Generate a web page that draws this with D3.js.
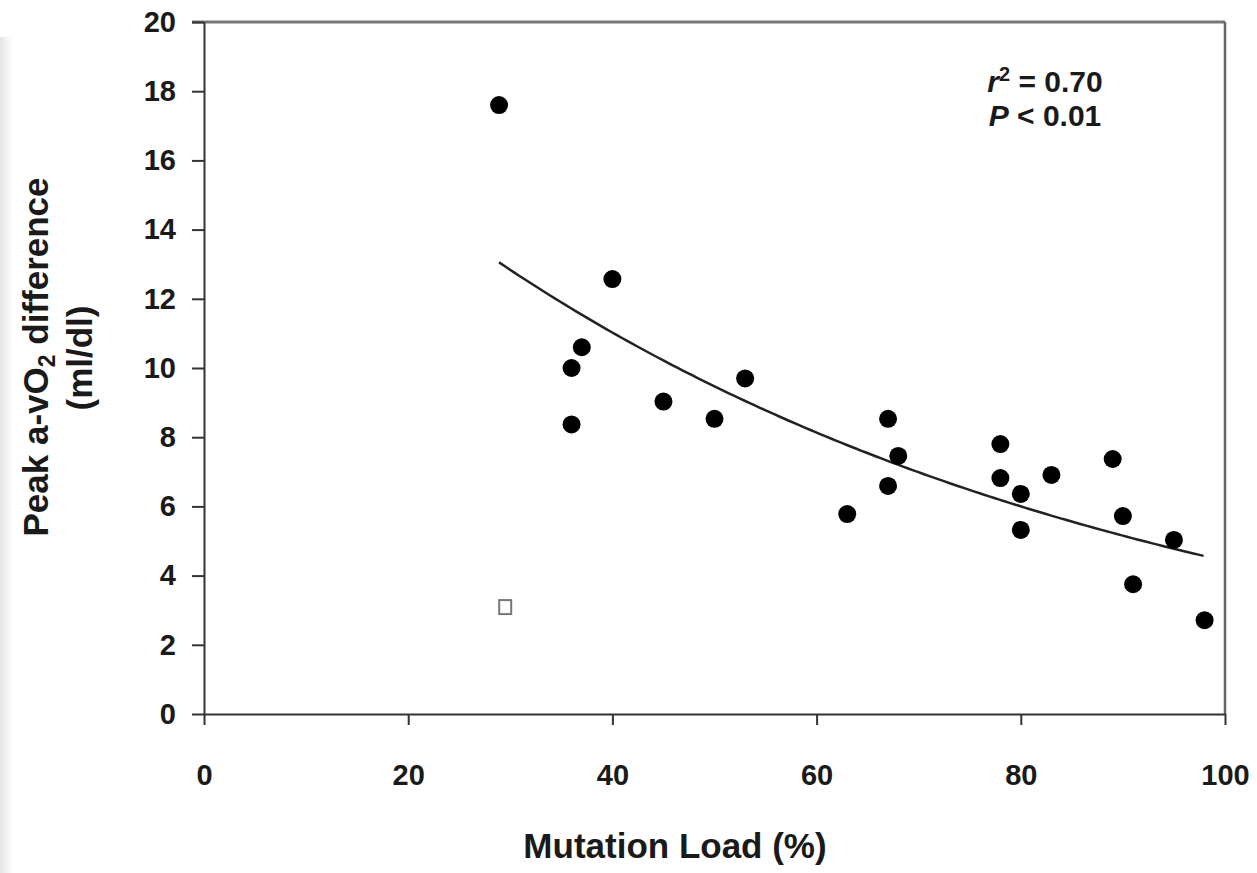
<!DOCTYPE html>
<html>
<head>
<meta charset="utf-8">
<script src="https://cdn.jsdelivr.net/npm/d3@7"></script>
<style>
  body { margin: 0; background: #fff; }
  svg { display: block; font-family: "Liberation Sans", Arial, sans-serif; }
  .axis text { font-size: 29px; font-weight: bold; fill: #1a1a1a; }
  .axis path, .axis line { stroke: #333; stroke-width: 2px; }
  .title { font-size: 35px; font-weight: bold; fill: #1a1a1a; }
  .stat { font-size: 30px; font-weight: bold; fill: #1a1a1a; }
</style>
</head>
<body>
<svg id="chart" width="1257" height="873"></svg>
<script>
// Patients: mutation load (%) vs peak a-vO2 difference (ml/dl)
const mutationLoad = [28.9, 40, 37, 36, 45, 36, 53, 50, 63, 67, 67, 68, 78, 78, 80, 80, 83, 89, 90, 91, 95, 98];
const avo2Diff = [17.6, 12.57, 10.6, 10.0, 9.03, 8.37, 9.7, 8.53, 5.78, 8.53, 6.59, 7.46, 7.8, 6.82, 6.36, 5.32, 6.91, 7.37, 5.72, 3.75, 5.03, 2.71];

// open square (excluded subject)
const outlierLoad = [29.5];
const outlierDiff = [3.09];

const xTicks = [0, 20, 40, 60, 80, 100];
const yTicks = [0, 2, 4, 6, 8, 10, 12, 14, 16, 18, 20];

const width = 1257, height = 873;
const margin = { left: 204, right: 32, top: 22, bottom: 159 };

const svg = d3.select("#chart");

// faint grey strip on the left edge of the scan
const grad = svg.append("defs").append("linearGradient").attr("id", "edge");
grad.append("stop").attr("offset", "0%").attr("stop-color", "#e4e4e4");
grad.append("stop").attr("offset", "100%").attr("stop-color", "#fdfdfd");
svg.append("rect").attr("x", 0).attr("y", 37).attr("width", 12).attr("height", height - 37)
    .attr("fill", "url(#edge)");

const xScale = d3.scaleLinear().domain([0, 100]).range([margin.left, width - margin.right]);
const yScale = d3.scaleLinear().domain([0, 20]).range([height - margin.bottom, margin.top]);

// frame: top and right borders
svg.append("line")
    .attr("x1", xScale(0) - 12).attr("x2", xScale(100))
    .attr("y1", yScale(20)).attr("y2", yScale(20))
    .attr("stroke", "#777").attr("stroke-width", 3);
svg.append("line")
    .attr("x1", xScale(100)).attr("x2", xScale(100))
    .attr("y1", yScale(20)).attr("y2", yScale(0))
    .attr("stroke", "#666").attr("stroke-width", 2.5);

// axes
svg.append("g").attr("class", "axis")
    .attr("transform", `translate(0, ${yScale(0)})`)
    .call(d3.axisBottom(xScale).tickValues(xTicks).tickSize(11).tickSizeOuter(0).tickPadding(39));

svg.append("g").attr("class", "axis")
    .attr("transform", `translate(${xScale(0)}, 0)`)
    .call(d3.axisLeft(yScale).tickValues(yTicks).tickSize(12).tickSizeOuter(0).tickPadding(16));

// exponential fit y = a*exp(b*x), log fit then a few Gauss-Newton steps
const n = mutationLoad.length;
const mx = d3.mean(mutationLoad);
const ml = d3.mean(avo2Diff, d => Math.log(d));
let b = d3.sum(mutationLoad, (x, i) => (x - mx) * (Math.log(avo2Diff[i]) - ml)) /
        d3.sum(mutationLoad, x => (x - mx) * (x - mx));
let a = Math.exp(ml - b * mx);
for (let it = 0; it < 20; it++) {
    let s11 = 0, s12 = 0, s22 = 0, g1 = 0, g2 = 0;
    for (let i = 0; i < n; i++) {
        const e = Math.exp(b * mutationLoad[i]);
        const ja = e, jb = a * mutationLoad[i] * e;
        const r = avo2Diff[i] - a * e;
        s11 += ja * ja; s12 += ja * jb; s22 += jb * jb;
        g1 += ja * r; g2 += jb * r;
    }
    const det = s11 * s22 - s12 * s12;
    a += (s22 * g1 - s12 * g2) / det;
    b += (s11 * g2 - s12 * g1) / det;
}

const xs = d3.extent(mutationLoad);
const curveX = d3.range(xs[0], xs[1] + 0.01, 0.5);
svg.append("path")
    .datum(curveX)
    .attr("fill", "none")
    .attr("stroke", "#222")
    .attr("stroke-width", 2.5)
    .attr("d", d3.line().x(d => xScale(d)).y(d => yScale(a * Math.exp(b * d))));

// filled points
svg.append("g").selectAll("circle")
    .data(mutationLoad)
    .enter().append("circle")
    .attr("cx", d => xScale(d))
    .attr("cy", (d, i) => yScale(avo2Diff[i]))
    .attr("r", 9)
    .attr("fill", "#000");

// open square
svg.append("g").selectAll("rect")
    .data(outlierLoad)
    .enter().append("rect")
    .attr("x", d => xScale(d) - 6)
    .attr("y", (d, i) => yScale(outlierDiff[i]) - 7)
    .attr("width", 12).attr("height", 14)
    .attr("fill", "#fff")
    .attr("stroke", "#777")
    .attr("stroke-width", 2);

// stats annotation
const s1 = svg.append("text").attr("class", "stat").attr("x", 1045).attr("y", 92).attr("text-anchor", "middle");
s1.append("tspan").attr("font-style", "italic").text("r");
s1.append("tspan").attr("font-size", "20px").attr("dy", -11).text("2");
s1.append("tspan").attr("dy", 11).text(" = 0.70");
const s2 = svg.append("text").attr("class", "stat").attr("x", 1045).attr("y", 126).attr("text-anchor", "middle");
s2.append("tspan").attr("font-style", "italic").text("P");
s2.append("tspan").text(" < 0.01");

// axis titles
svg.append("text").attr("class", "title")
    .attr("x", 675).attr("y", 858).attr("text-anchor", "middle")
    .text("Mutation Load (%)");

const yt = svg.append("text").attr("class", "title")
    .attr("transform", "translate(48, 357) rotate(-90)")
    .attr("text-anchor", "middle");
yt.append("tspan").text("Peak a-vO");
yt.append("tspan").attr("font-size", "23px").attr("dy", 7).text("2");
yt.append("tspan").attr("dy", -7).text(" difference");

svg.append("text").attr("class", "title")
    .attr("transform", "translate(92, 358) rotate(-90)")
    .attr("text-anchor", "middle")
    .text("(ml/dl)");
</script>
</body>
</html>
